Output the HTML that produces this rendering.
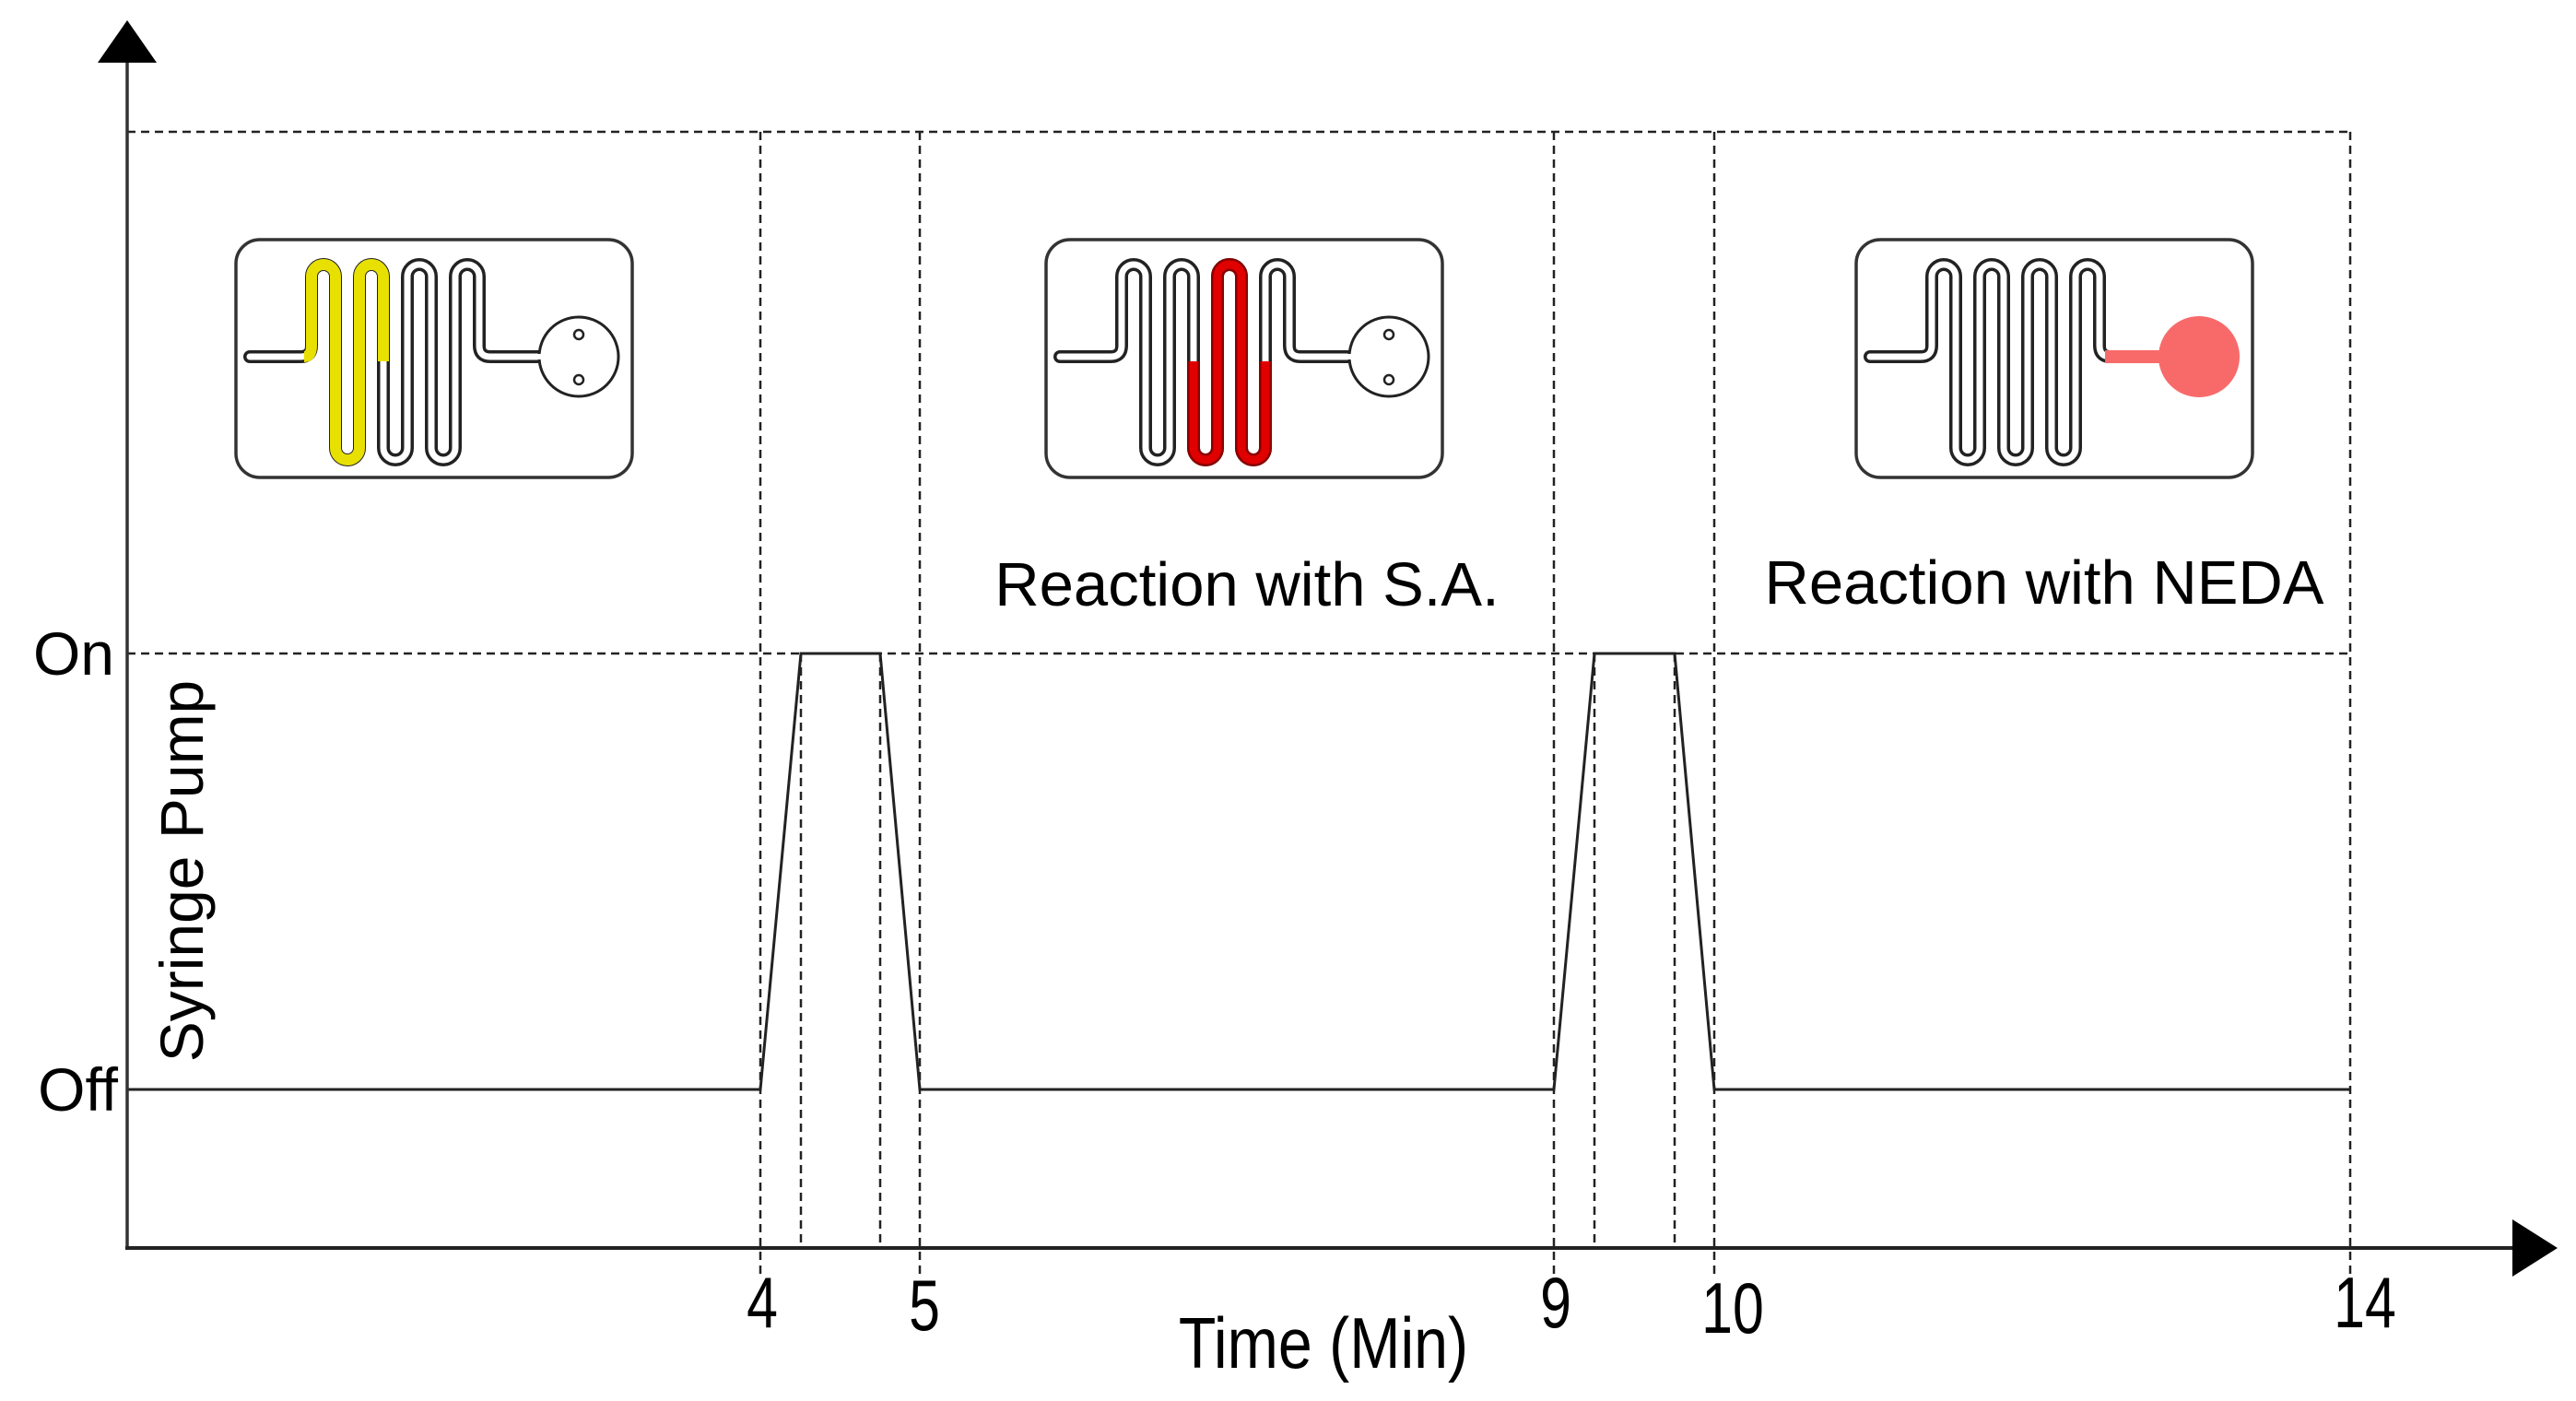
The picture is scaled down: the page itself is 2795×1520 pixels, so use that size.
<!DOCTYPE html>
<html><head><meta charset="utf-8"><style>
html,body{margin:0;padding:0;background:#fff;}
svg{display:block;}
text{font-family:"Liberation Sans",Arial,sans-serif;fill:#000;}
</style></head><body>
<svg width="2795" height="1520" viewBox="0 0 2795 1520" xmlns="http://www.w3.org/2000/svg">
<defs>
<g id="serp">
  <path d="M15,127 H70 Q82,127 82,115 V40 A13,13 0 0 1 108,40 V226 A13,13 0 0 0 134,226 V40 A13,13 0 0 1 160,40 V226 A13,13 0 0 0 186,226 V40 A13,13 0 0 1 212,40 V226 A13,13 0 0 0 238,226 V40 A13,13 0 0 1 264,40 V115 Q264,127 276,127 H335" fill="none" stroke="#222" stroke-width="14" stroke-linecap="round" stroke-linejoin="round"/>
  <path d="M15,127 H70 Q82,127 82,115 V40 A13,13 0 0 1 108,40 V226 A13,13 0 0 0 134,226 V40 A13,13 0 0 1 160,40 V226 A13,13 0 0 0 186,226 V40 A13,13 0 0 1 212,40 V226 A13,13 0 0 0 238,226 V40 A13,13 0 0 1 264,40 V115 Q264,127 276,127 H335" fill="none" stroke="#fff" stroke-width="7" stroke-linecap="round" stroke-linejoin="round"/>
  <rect x="0" y="0" width="430" height="258" rx="26" fill="none" stroke="#333" stroke-width="3.5"/>
</g>
</defs>

<g transform="translate(256,260)">
  <use href="#serp"/>
  <circle cx="372" cy="127" r="43" fill="#fff" stroke="#222" stroke-width="3"/>
  <rect x="326" y="124" width="6" height="6" fill="#fff"/>
  <circle cx="372" cy="103" r="5" fill="none" stroke="#222" stroke-width="2.5"/>
  <circle cx="372" cy="152" r="5" fill="none" stroke="#222" stroke-width="2.5"/>
  <path d="M74,127 Q82,127 82,115 V40 A13,13 0 0 1 108,40 V226 A13,13 0 0 0 134,226 V40 A13,13 0 0 1 160,40 V132" fill="none" stroke="#e8e000" stroke-width="12"/>
</g>
<g transform="translate(1135,260)">
  <use href="#serp"/>
  <circle cx="372" cy="127" r="43" fill="#fff" stroke="#222" stroke-width="3"/>
  <rect x="326" y="124" width="6" height="6" fill="#fff"/>
  <circle cx="372" cy="103" r="5" fill="none" stroke="#222" stroke-width="2.5"/>
  <circle cx="372" cy="152" r="5" fill="none" stroke="#222" stroke-width="2.5"/>
  <path d="M160,132 V226 A13,13 0 0 0 186,226 V40 A13,13 0 0 1 212,40 V226 A13,13 0 0 0 238,226 V132" fill="none" stroke="#8a0000" stroke-width="14"/>
  <path d="M160,132 V226 A13,13 0 0 0 186,226 V40 A13,13 0 0 1 212,40 V226 A13,13 0 0 0 238,226 V132" fill="none" stroke="#e00000" stroke-width="9"/>
</g>
<g transform="translate(2014,260)">
  <use href="#serp"/>
  <path d="M270,127 H335" stroke="#f86a6a" stroke-width="14"/>
  <circle cx="372" cy="127" r="44" fill="#f86a6a"/>
</g>

<g stroke="#222" stroke-width="2.5" stroke-dasharray="9,6" fill="none">
  <line x1="138" y1="143" x2="2550" y2="143"/>
  <line x1="138" y1="709" x2="2550" y2="709"/>
  <line x1="825" y1="143" x2="825" y2="1385"/>
  <line x1="998" y1="143" x2="998" y2="1385"/>
  <line x1="1686" y1="143" x2="1686" y2="1385"/>
  <line x1="1860" y1="143" x2="1860" y2="1385"/>
  <line x1="2550" y1="143" x2="2550" y2="1385"/>
  <line x1="869" y1="709" x2="869" y2="1354"/>
  <line x1="955" y1="709" x2="955" y2="1354"/>
  <line x1="1730" y1="709" x2="1730" y2="1354"/>
  <line x1="1817" y1="709" x2="1817" y2="1354"/>
</g>

<polyline points="138,1182 825,1182 869,709 955,709 998,1182 1686,1182 1730,709 1817,709 1860,1182 2550,1182" fill="none" stroke="#222" stroke-width="3"/>

<line x1="138" y1="60" x2="138" y2="1354" stroke="#333" stroke-width="3.5"/>
<polygon points="138,22 106,68 170,68" fill="#000"/>
<line x1="136" y1="1354" x2="2730" y2="1354" stroke="#222" stroke-width="4"/>
<polygon points="2775,1354 2726,1323 2726,1385" fill="#000"/>

<text x="124" y="732" font-size="66" text-anchor="end">On</text>
<text x="128" y="1205" font-size="66" text-anchor="end">Off</text>
<text transform="translate(220,945) rotate(-90)" font-size="66" text-anchor="middle">Syringe Pump</text>

<text x="1353" y="657" font-size="67" text-anchor="middle">Reaction with S.A.</text>
<text x="2218" y="655" font-size="67" text-anchor="middle">Reaction with NEDA</text>

<g font-size="78">
  <text transform="translate(827,1440) scale(0.78,1)" text-anchor="middle">4</text>
  <text transform="translate(1003,1443) scale(0.78,1)" text-anchor="middle">5</text>
  <text transform="translate(1688,1440) scale(0.78,1)" text-anchor="middle">9</text>
  <text transform="translate(1880,1446) scale(0.78,1)" text-anchor="middle">10</text>
  <text transform="translate(2566,1440) scale(0.78,1)" text-anchor="middle">14</text>
  <text transform="translate(1436,1484) scale(0.85,1)" text-anchor="middle">Time (Min)</text>
</g>
</svg>
</body></html>
